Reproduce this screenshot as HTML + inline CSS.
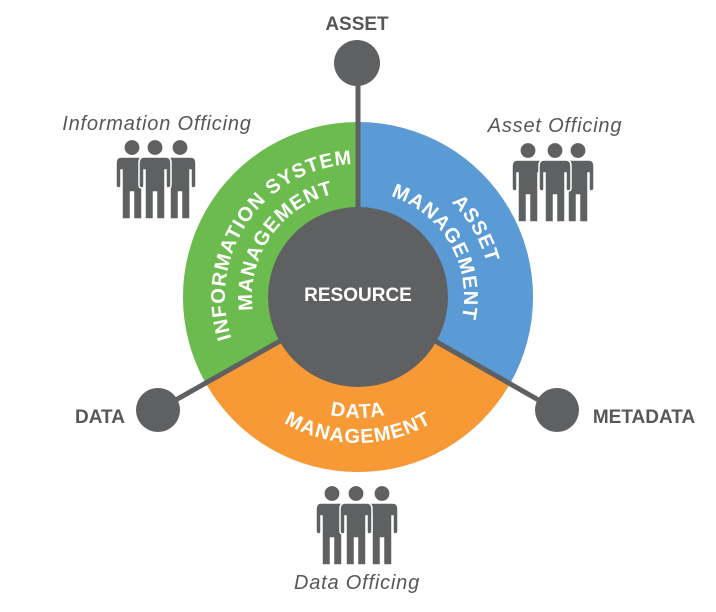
<!DOCTYPE html>
<html><head><meta charset="utf-8"><style>
html,body{margin:0;padding:0;background:#fff;}
svg{display:block;}
text{font-family:"Liberation Sans",sans-serif;}
</style></head><body>
<svg width="716" height="612" viewBox="0 0 716 612" xmlns="http://www.w3.org/2000/svg">
<defs>
<g id="p">
  <circle cx="0" cy="7.5" r="8" fill="#5f6062" stroke="#fff" stroke-width="1.2"/>
  <path d="M-11,17 H11 Q16,17 16,23 V45 Q16,48 13,48 Q11,48 11,45 V30 H10 V79 H1.5 V52 H-1.5 V79 H-10 V30 H-11 V45 Q-11,48 -13,48 Q-16,48 -16,45 V23 Q-16,17 -11,17 Z" fill="#5f6062" stroke="#fff" stroke-width="1.5"/>
</g>
<path id="g1" d="M242.8,363.5 A133,133 0 0 1 358,164"/>
<path id="g2" d="M266.2,350 A106,106 0 0 1 358,191"/>
<path id="b1" d="M358,164 A133,133 0 0 1 473.2,363.5"/>
<path id="b2" d="M358,191 A106,106 0 0 1 449.8,350"/>
<path id="o1" d="M253.2,357.5 A121,121 0 0 0 462.8,357.5"/>
<path id="o2" d="M231.6,370 A146,146 0 0 0 484.4,370"/>
</defs>

<path d="M358,297 L358,122 A175,175 0 0 1 509.6,384.5 Z" fill="#5b9bd5"/>
<path d="M358,297 L509.6,384.5 A175,175 0 0 1 206.4,384.5 Z" fill="#f79935"/>
<path d="M358,297 L206.4,384.5 A175,175 0 0 1 358,122 Z" fill="#6cbb4e"/>

<g stroke="#5f6062" stroke-width="5">
<line x1="358" y1="66" x2="358" y2="297"/>
<line x1="358" y1="297" x2="158" y2="410"/>
<line x1="358" y1="297" x2="556" y2="410"/>
</g>
<circle cx="358" cy="297" r="90" fill="#5f6062"/>
<circle cx="357" cy="63" r="23" fill="#5f6062"/>
<circle cx="158" cy="410" r="22" fill="#5f6062"/>
<circle cx="557" cy="410" r="22" fill="#5f6062"/>

<g fill="#fff" font-weight="bold" font-size="20" letter-spacing="1" text-anchor="middle">
<text><textPath href="#g1" startOffset="54%">INFORMATION SYSTEM</textPath></text>
<text><textPath href="#g2" startOffset="54%">MANAGEMENT</textPath></text>
<text><textPath href="#b1" startOffset="50%">ASSET</textPath></text>
<text><textPath href="#b2" startOffset="50%">MANAGEMENT</textPath></text>
<text><textPath href="#o1" startOffset="50%">DATA</textPath></text>
<text><textPath href="#o2" startOffset="50%">MANAGEMENT</textPath></text>
</g>
<text x="358" y="301" font-size="19" fill="#fff" font-weight="bold" text-anchor="middle">RESOURCE</text>

<g fill="#555759" font-weight="bold" font-size="19">
<text x="357" y="30" text-anchor="middle">ASSET</text>
<text x="100" y="423" text-anchor="middle">DATA</text>
<text x="644" y="423" text-anchor="middle">METADATA</text>
</g>
<g fill="#555759" font-style="italic" font-size="20" letter-spacing="0.8" text-anchor="middle">
<text x="157" y="130">Information Officing</text>
<text x="555" y="132">Asset Officing</text>
<text x="357" y="589">Data Officing</text>
</g>

<use href="#p" x="132" y="140"/><use href="#p" x="180" y="140"/><use href="#p" x="155" y="140"/>
<use href="#p" x="528" y="143"/><use href="#p" x="578" y="143"/><use href="#p" x="555" y="143"/>
<use href="#p" x="332" y="486"/><use href="#p" x="382" y="486"/><use href="#p" x="356" y="486"/>
</svg>
</body></html>
